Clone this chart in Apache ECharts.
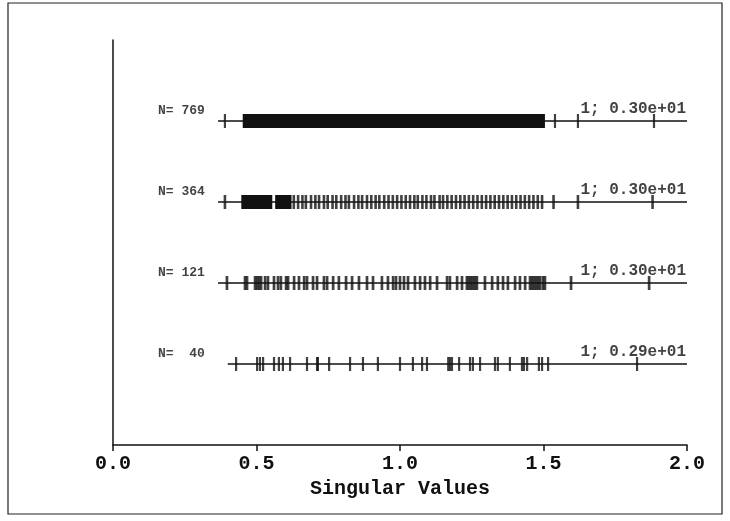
<!DOCTYPE html>
<html>
<head>
<meta charset="utf-8">
<script src="https://cdn.jsdelivr.net/npm/echarts@6/dist/echarts.min.js"></script>
<style>
  html, body { margin: 0; padding: 0; background: #fff; }
  #chart { width: 730px; height: 521px; }
</style>
</head>
<body>
<div id="chart"></div>
<script>
// rows, from bottom (1) to top (4)
const rowLabels = ['N=  40', 'N= 121', 'N= 364', 'N= 769'];
const rowNotes = ['1; 0.29e+01', '1; 0.30e+01', '1; 0.30e+01', '1; 0.30e+01'];
const rowStart = [0.40, 0.366, 0.366, 0.366];

// singular values (ticks)
const valsN40 = [0.429, 0.502, 0.512, 0.523, 0.561, 0.578, 0.592, 0.617, 0.676, 0.711, 0.714,
  0.753, 0.826, 0.871, 0.923, 1.0, 1.045, 1.077, 1.094, 1.168, 1.174, 1.181, 1.206, 1.244, 1.254,
  1.279, 1.331, 1.341, 1.383, 1.425, 1.432, 1.443, 1.484, 1.495, 1.516, 1.826];

const valsN121 = [0.397, 0.460, 0.467, 0.495, 0.502, 0.509, 0.516, 0.530, 0.540, 0.561, 0.575,
  0.585, 0.603, 0.610, 0.631, 0.648, 0.666, 0.676, 0.697, 0.711, 0.735, 0.746, 0.767, 0.787,
  0.812, 0.833, 0.857, 0.885, 0.906, 0.937, 0.958, 0.976, 0.986, 1.000, 1.014, 1.028, 1.052,
  1.070, 1.087, 1.105, 1.129, 1.164, 1.174, 1.199, 1.216, 1.233, 1.240, 1.247, 1.254, 1.261,
  1.268, 1.296, 1.321, 1.341, 1.359, 1.376, 1.401, 1.418, 1.436, 1.453, 1.460, 1.467, 1.474,
  1.481, 1.488, 1.498, 1.505, 1.596, 1.868];

const valsN364 = [0.39, 0.63, 0.645, 0.66, 0.672, 0.69, 0.705, 0.718, 0.735, 0.748, 0.765, 0.778,
  0.795, 0.81, 0.822, 0.84, 0.855, 0.868, 0.885, 0.9, 0.915, 0.928, 0.945, 0.96, 0.975, 0.99,
  1.005, 1.02, 1.035, 1.05, 1.062, 1.078, 1.092, 1.108, 1.12, 1.138, 1.15, 1.165, 1.18, 1.195,
  1.21, 1.225, 1.24, 1.255, 1.27, 1.285, 1.3, 1.315, 1.33, 1.345, 1.36, 1.375, 1.39, 1.405,
  1.42, 1.435, 1.45, 1.465, 1.48, 1.495, 1.535, 1.62, 1.88];
const bandsN364 = [[0.447, 0.555], [0.565, 0.622]];

const valsN769 = [0.39, 1.54, 1.62, 1.885];
const bandsN769 = [[0.452, 1.505]];

const allVals = [valsN40, valsN121, valsN364, valsN769];
const allBands = [[], [], bandsN364, bandsN769];
const tickWidth = [2.2, 2.7, 2.6, 2.2];

const chart = echarts.init(document.getElementById('chart'));
const FONT = 'Liberation Mono';

const lineData = [];
const bandData = [];
const leftLabelData = [];
const rightLabelData = [];
const tickSeries = [];
for (let i = 0; i < 4; i++) {
  const row = i + 1;
  lineData.push([rowStart[i], row, 2.0, row]);
  allBands[i].forEach(b => bandData.push([b[0], b[1], row]));
  leftLabelData.push({value: [0.157, row + 0.13], name: rowLabels[i]});
  rightLabelData.push({value: [2.0, row + 0.15], name: rowNotes[i]});
  tickSeries.push({
    type: 'scatter', silent: true,
    data: allVals[i].map(v => [v, row]),
    symbol: 'rect', symbolSize: [tickWidth[i], 14],
    itemStyle: {color: '#111'}
  });
}

const option = {
  animation: false,
  grid: {left: 113, right: 43, top: 40, bottom: 76},
  graphic: [{
    type: 'rect',
    shape: {x: 8, y: 3, width: 714, height: 511},
    style: {fill: 'none', stroke: '#222', lineWidth: 1.2}
  }],
  xAxis: {
    type: 'value', min: 0, max: 2, interval: 0.5,
    name: 'Singular Values', nameLocation: 'middle', nameGap: 25,
    nameTextStyle: {fontFamily: FONT, fontSize: 20, color: '#111', fontWeight: 'bold'},
    axisLine: {lineStyle: {color: '#111', width: 1.5}},
    axisTick: {length: 6, lineStyle: {color: '#111', width: 1.5}},
    axisLabel: {
      formatter: v => v.toFixed(1), margin: 9,
      fontFamily: FONT, fontSize: 20, color: '#111', fontWeight: 'bold'
    },
    splitLine: {show: false}
  },
  yAxis: {
    type: 'value', min: 0, max: 5,
    axisLine: {show: true, lineStyle: {color: '#111', width: 1.5}},
    axisTick: {show: false},
    axisLabel: {show: false},
    splitLine: {show: false}
  },
  series: [
    {
      type: 'custom', silent: true,
      data: lineData,
      renderItem: (params, api) => {
        const a = api.coord([api.value(0), api.value(1)]);
        const b = api.coord([api.value(2), api.value(3)]);
        return {type: 'line', shape: {x1: a[0], y1: a[1], x2: b[0], y2: b[1]},
          style: {stroke: '#111', lineWidth: 1.4}};
      }
    },
    {
      type: 'custom', silent: true,
      data: bandData,
      renderItem: (params, api) => {
        const a = api.coord([api.value(0), api.value(2)]);
        const b = api.coord([api.value(1), api.value(2)]);
        return {type: 'rect', shape: {x: a[0], y: a[1] - 7, width: b[0] - a[0], height: 14},
          style: {fill: '#111'}};
      }
    },
    ...tickSeries,
    {
      type: 'scatter', silent: true,
      data: leftLabelData, symbolSize: 0,
      label: {show: true, position: 'right', distance: 0, formatter: p => p.name,
        fontFamily: FONT, fontSize: 13, color: '#111', fontWeight: 'bold'}
    },
    {
      type: 'scatter', silent: true,
      data: rightLabelData, symbolSize: 0,
      label: {show: true, position: 'left', distance: 1, formatter: p => p.name,
        fontFamily: FONT, fontSize: 16, color: '#111', fontWeight: 'bold'}
    }
  ]
};
chart.setOption(option);
</script>
</body>
</html>
